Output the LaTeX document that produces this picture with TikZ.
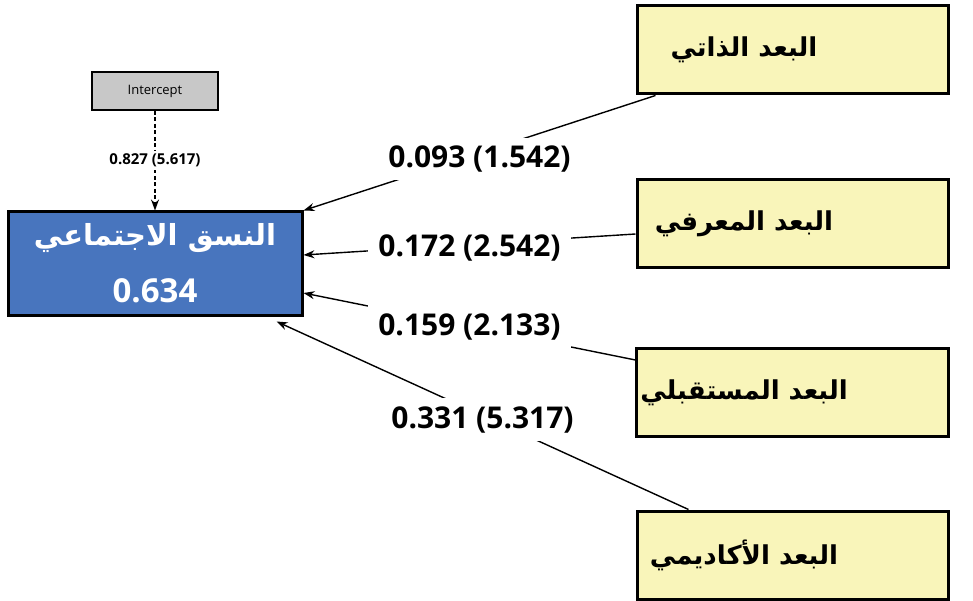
\documentclass[tikz,border=0pt]{standalone}
\usepackage{fontspec}
\setmainfont{Open Sans}
\newfontfamily\arabicfont[Script=Arabic]{DejaVu Sans}
\TeXXeTstate=1
\usetikzlibrary{arrows.meta}
\definecolor{dimyellow}{RGB}{249,245,186}
\definecolor{socblue}{RGB}{72,117,190}
\definecolor{icgray}{RGB}{200,200,200}

\def\dimx{792.5}
% Arabic label, set a bit left of and below the box centre
\def\dimlabel#1{\raisebox{-4pt}{\beginR #1\endR}\hbox to 97pt{}}

\begin{document}
\begin{tikzpicture}[x=1pt,y=-1pt,>={Stealth[length=11pt,width=8pt]},
    dimbox/.style={draw,line width=3pt,fill=dimyellow,minimum width=311pt,minimum height=88pt,
      font=\arabicfont\bfseries\fontsize{26}{32}\selectfont},
    socbox/.style={draw,line width=3pt,fill=socblue,text=white,minimum width=294pt,minimum height=103pt,
      align=center,font=\bfseries\fontsize{33}{57}\selectfont},
    icbox/.style={draw,line width=2pt,fill=icgray,minimum width=126pt,minimum height=38pt,
      font=\fontsize{13}{15}\selectfont},
    coef/.style={fill=white,inner xsep=10pt,inner ysep=8pt,font=\bfseries\fontsize{30}{36}\selectfont},
    link/.style={->,draw,line width=1.4pt}]
    \useasboundingbox (0,0) rectangle (973,601);

    \node[icbox] (IC) at (155,91) {Intercept};
    \node[socbox] (SOC) at (155,263.5) {{\arabicfont\fontsize{29}{57}\selectfont\beginR النسق الاجتماعي\endR}\\0.634};

    \node[dimbox] (D1) at (\dimx,50) {\dimlabel{البعد الذاتي}};
    \node[dimbox] (D2) at (\dimx,224) {\dimlabel{البعد المعرفي}};
    \node[dimbox] (D3) at (\dimx,392.5) {\dimlabel{البعد المستقبلي}};
    \node[dimbox] (D4) at (\dimx,555) {\dimlabel{البعد الأكاديمي}};

    \path[->,draw,line width=1.4pt,dash pattern=on 4pt off 2.5pt] (IC) -- node[fill=white,inner sep=3pt,font=\bfseries\fontsize{15}{17}\selectfont] {0.827 (5.617)} (SOC);
    \path[link] ([xshift=20pt]D1.south west) -- node[coef,yshift=-6pt] {0.093 (1.542)} (SOC.north east);
    \path[link] ([yshift=-10pt]D2.west) -- node[coef,yshift=-3pt] {0.172 (2.542)} ([yshift=8.5pt]SOC.east);
    \path[link] ([yshift=32.5pt]D3.west) -- node[coef] {0.159 (2.133)} ([yshift=-29.5pt]SOC.east);
    \path[link] ([xshift=53pt]D4.north west) -- node[coef,yshift=-4pt] {0.331 (5.317)} ([xshift=-27pt,yshift=-5pt]SOC.south east);

  \end{tikzpicture}
\end{document}
